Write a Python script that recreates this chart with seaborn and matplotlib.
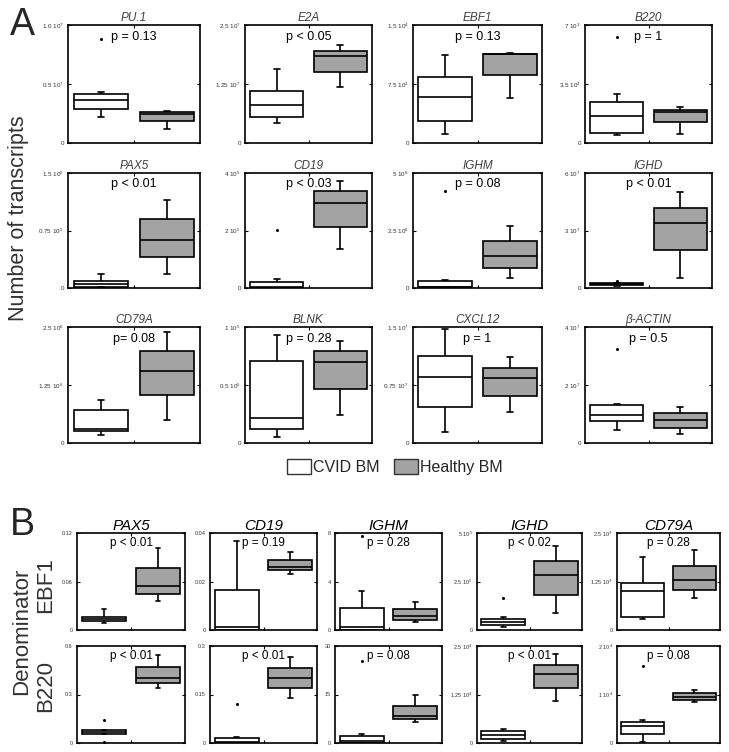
import numpy as np
import pandas as pd
import matplotlib
matplotlib.use("Agg")
import matplotlib.pyplot as plt
import seaborn as sns
from matplotlib.patches import Patch

sns.set_theme(style="white")
plt.rcParams['font.family'] = ['Liberation Sans', 'DejaVu Sans']
plt.rcParams['mathtext.default'] = 'regular'

GROUPS = ["CVID BM", "Healthy BM"]
PALETTE = {"CVID BM": "white", "Healthy BM": "#a3a3a3"}

# ---------------- Panel A data (5-number summaries: low whisker, Q1, median, Q3, high whisker)
A_genes = ["PU.1", "E2A", "EBF1", "B220", "PAX5", "CD19", "IGHM", "IGHD",
           "CD79A", "BLNK", "CXCL12", "β-ACTIN"]
A_cvid = [
    [0.221, 0.286, 0.368, 0.416, 0.428],
    [0.418, 0.552, 0.807, 1.098, 1.572],
    [0.117, 0.277, 0.582, 0.838, 1.123],
    [0.472, 0.590, 1.593, 2.438, 2.910],
    [0.010, 0.018, 0.053, 0.097, 0.181],
    [0.0, 0.0, 0.02, 0.202, 0.309],
    [0.0, 0.029, 0.04, 0.304, 0.362],
    [0.123, 0.158, 0.21, 0.246, 0.25],
    [0.176, 0.254, 0.31, 0.711, 0.93],
    [0.052, 0.12, 0.213, 0.703, 0.933],
    [0.145, 0.469, 0.855, 1.127, 1.469],
    [0.433, 0.749, 0.982, 1.298, 1.345],
]
A_healthy = [
    [0.122, 0.187, 0.249, 0.263, 0.275],
    [1.183, 1.508, 1.841, 1.948, 2.068],
    [0.578, 0.859, 1.130, 1.136, 1.145],
    [0.551, 1.219, 1.829, 1.986, 2.124],
    [0.181, 0.401, 0.626, 0.896, 1.151],
    [1.365, 2.136, 2.967, 3.371, 3.739],
    [0.42, 0.884, 1.377, 2.058, 2.71],
    [0.526, 1.965, 3.368, 4.158, 5.0],
    [0.493, 1.035, 1.549, 1.986, 2.394],
    [0.242, 0.466, 0.694, 0.79, 0.883],
    [0.399, 0.614, 0.838, 0.974, 1.114],
    [0.304, 0.526, 0.807, 1.018, 1.251],
]
A_cvid_out = [[0.881], [], [], [6.29], [], [2.03], [4.23], [0.39], [], [], [], [3.24]]
A_healthy_out = [[], [], [], [], [], [], [], [], [], [], [], []]
A_ymax = [1.0, 2.5, 1.5, 7, 1.5, 4, 5, 6, 2.5, 1, 1.5, 4]
A_top_labels = [r"$1.0\ 10^{7}$", r"$2.5\ 10^{7}$", r"$1.5\ 10^{4}$", r"$7\ 10^{3}$",
                r"$1.5\ 10^{5}$", r"$4\ 10^{5}$", r"$5\ 10^{6}$", r"$6\ 10^{7}$",
                r"$2.5\ 10^{6}$", r"$1\ 10^{5}$", r"$1.5\ 10^{7}$", r"$4\ 10^{7}$"]
A_mid_labels = [r"$0.5\ 10^{7}$", r"$1.25\ 10^{7}$", r"$7.5\ 10^{3}$", r"$3.5\ 10^{3}$",
                r"$0.75\ 10^{5}$", r"$2\ 10^{5}$", r"$2.5\ 10^{6}$", r"$3\ 10^{7}$",
                r"$1.25\ 10^{6}$", r"$0.5\ 10^{5}$", r"$0.75\ 10^{7}$", r"$2\ 10^{7}$"]
A_pvalues = ["p = 0.13", "p < 0.05", "p = 0.13", "p = 1", "p < 0.01", "p < 0.03",
             "p = 0.08", "p < 0.01", "p= 0.08", "p = 0.28", "p = 1", "p = 0.5"]

# ---------------- Panel B data
B_genes = ["PAX5", "CD19", "IGHM", "IGHD", "CD79A"]
B_ebf1_cvid = [
    [0.0083, 0.0108, 0.0138, 0.0158, 0.0258],
    [0.0, 0.0, 0.0011, 0.0167, 0.0369],
    [0.0, 0.0, 0.222, 1.806, 3.22],
    [0.14, 0.262, 0.402, 0.542, 0.664],
    [0.271, 0.332, 1.005, 1.206, 1.888],
]
B_ebf1_healthy = [
    [0.0354, 0.045, 0.055, 0.0771, 0.101],
    [0.0231, 0.0246, 0.026, 0.0289, 0.0322],
    [0.694, 0.833, 1.194, 1.722, 2.278],
    [0.892, 1.8, 2.85, 3.549, 4.336],
    [0.813, 1.031, 1.276, 1.643, 2.054],
]
B_ebf1_cvid_out = [[], [], [7.78], [1.626], []]
B_ebf1_ymax = [0.12, 0.04, 8, 5, 2.5]
B_ebf1_top = ["0.12", "0.04", "8", r"$5\ 10^{5}$", r"$2.5\ 10^{3}$"]
B_ebf1_mid = ["0.06", "0.02", "4", r"$2.5\ 10^{5}$", r"$1.25\ 10^{3}$"]
B_ebf1_p = ["p < 0.01", "p = 0.19", "p = 0.28", "p < 0.02", "p = 0.28"]

B_b220_cvid = [
    [0.058, 0.058, 0.070, 0.0828, 0.0828],
    [0.0, 0.0, 0.003, 0.0166, 0.0197],
    [0.0, 0.0, 0.62, 2.07, 2.69],
    [0.043, 0.113, 0.217, 0.3125, 0.373],
    [0.02, 0.194, 0.354, 0.4375, 0.465],
]
B_b220_healthy = [
    [0.343, 0.374, 0.399, 0.472, 0.546],
    [0.14, 0.169, 0.2, 0.232, 0.267],
    [6.52, 7.55, 8.48, 11.59, 15.0],
    [1.085, 1.406, 1.78, 2.023, 2.283],
    [0.847, 0.889, 0.958, 1.028, 1.097],
]
B_b220_cvid_out = [[0.145, 0.006], [0.122], [25.4], [], [1.597]]
B_b220_ymax = [0.6, 0.3, 30, 2.5, 2]
B_b220_top = ["0.6", "0.3", "30", r"$2.5\ 10^{4}$", r"$2\ 10^{4}$"]
B_b220_mid = ["0.3", "0.15", "15", r"$1.25\ 10^{4}$", r"$1\ 10^{4}$"]
B_b220_p = ["p < 0.01", "p < 0.01", "p = 0.08", "p < 0.01", "p = 0.08"]

W, H = 729, 752
fig = plt.figure(figsize=(W / 100, H / 100), dpi=100)


def make_ax(x0, x1, y0, y1):
    return fig.add_axes([x0 / W, 1 - y1 / H, (x1 - x0) / W, (y1 - y0) / H])


def draw(ax, title, cvid, healthy, cvid_out, healthy_out, ymax, top_lbl, mid_lbl, ptxt,
         title_kw, p_kw, tick_size):
    df = pd.DataFrame({"group": [GROUPS[0]] * len(cvid) + [GROUPS[1]] * len(healthy),
                       "value": list(cvid) + list(healthy)})
    sns.boxplot(data=df, x="group", y="value", hue="group", order=GROUPS, hue_order=GROUPS,
                palette=PALETTE, whis=(0, 100), width=0.83, linewidth=1.2, linecolor="black",
                saturation=1, legend=False, ax=ax, capwidths=0.09)
    outs = pd.DataFrame({"group": [GROUPS[0]] * len(cvid_out) + [GROUPS[1]] * len(healthy_out),
                         "value": list(cvid_out) + list(healthy_out)})
    if len(outs):
        sns.stripplot(data=outs, x="group", y="value", order=GROUPS, jitter=False,
                      color="black", size=2.2, ax=ax)
    ax.set_xlim(-0.5, 1.5)
    ax.set_ylim(0, ymax)
    ax.set_xticks([0.5])
    ax.set_xticklabels([])
    ax.set_yticks([0, ymax / 2, ymax])
    ax.set_yticklabels(["0", mid_lbl, top_lbl])
    ax.set_xlabel("")
    ax.set_ylabel("")
    ax.tick_params(direction="in", length=2.5, width=0.8, top=True, right=True,
                   left=True, bottom=True, labelsize=tick_size, pad=3, colors="black",
                   labelcolor="#333333")
    for s in ax.spines.values():
        s.set_color("black")
        s.set_linewidth(1.2)
        s.set_visible(True)
    ax.set_title(title, **title_kw)
    ax.text(0.5, 0.9, ptxt, transform=ax.transAxes, ha="center", va="center", **p_kw)


# Panel A layout
A_cols = [(68, 200), (245, 372), (413, 542), (585, 712)]
A_rows = [(25, 143), (173, 288), (327, 443)]
A_title_kw = dict(fontsize=8.5, style="italic", color="#404040", pad=3)
A_p_kw = dict(fontsize=9, color="black")
for i, gene in enumerate(A_genes):
    r, c = divmod(i, 4)
    ax = make_ax(A_cols[c][0], A_cols[c][1], A_rows[r][0], A_rows[r][1])
    draw(ax, gene, A_cvid[i], A_healthy[i], A_cvid_out[i], A_healthy_out[i], A_ymax[i],
         A_top_labels[i], A_mid_labels[i], A_pvalues[i], A_title_kw, A_p_kw, 4.5)

# Panel B layout
B_cols = [(77, 185), (210, 317), (335, 442), (477, 582), (617, 720)]
B_rows = [(533, 630), (646, 743)]
B_title_kw = dict(fontsize=11, style="italic", color="black", pad=2)
B_p_kw = dict(fontsize=8.5, color="black")
for j, gene in enumerate(B_genes):
    ax = make_ax(B_cols[j][0], B_cols[j][1], B_rows[0][0], B_rows[0][1])
    draw(ax, gene, B_ebf1_cvid[j], B_ebf1_healthy[j], B_ebf1_cvid_out[j], [],
         B_ebf1_ymax[j], B_ebf1_top[j], B_ebf1_mid[j], B_ebf1_p[j], B_title_kw, B_p_kw, 4)
    ax = make_ax(B_cols[j][0], B_cols[j][1], B_rows[1][0], B_rows[1][1])
    draw(ax, "", B_b220_cvid[j], B_b220_healthy[j], B_b220_cvid_out[j], [],
         B_b220_ymax[j], B_b220_top[j], B_b220_mid[j], B_b220_p[j], B_title_kw, B_p_kw, 4)

# Labels
fig.text(10 / W, 1 - 25 / H, "A", fontsize=27, ha="left", va="center")
fig.text(10 / W, 1 - 525 / H, "B", fontsize=27, ha="left", va="center")
fig.text(19 / W, 1 - 218 / H, "Number of transcripts", rotation=90, fontsize=15.5,
         ha="center", va="center", color="#333333")
fig.text(22 / W, 1 - 631 / H, "Denominator", rotation=90, fontsize=16,
         ha="center", va="center", color="#333333")
fig.text(46 / W, 1 - 585 / H, "EBF1", rotation=90, fontsize=16,
         ha="center", va="center", color="#333333")
fig.text(46 / W, 1 - 686 / H, "B220", rotation=90, fontsize=16,
         ha="center", va="center", color="#333333")

handles = [Patch(facecolor=PALETTE[g], edgecolor="#333333", linewidth=1.0) for g in GROUPS]
fig.legend(handles, GROUPS, loc="center", bbox_to_anchor=(395 / W, 1 - 467 / H),
           ncol=2, frameon=False, fontsize=11.5, handlelength=1.5, handleheight=1.1,
           handletextpad=0.15, columnspacing=0.9)

fig.savefig("out.png", dpi=100)
